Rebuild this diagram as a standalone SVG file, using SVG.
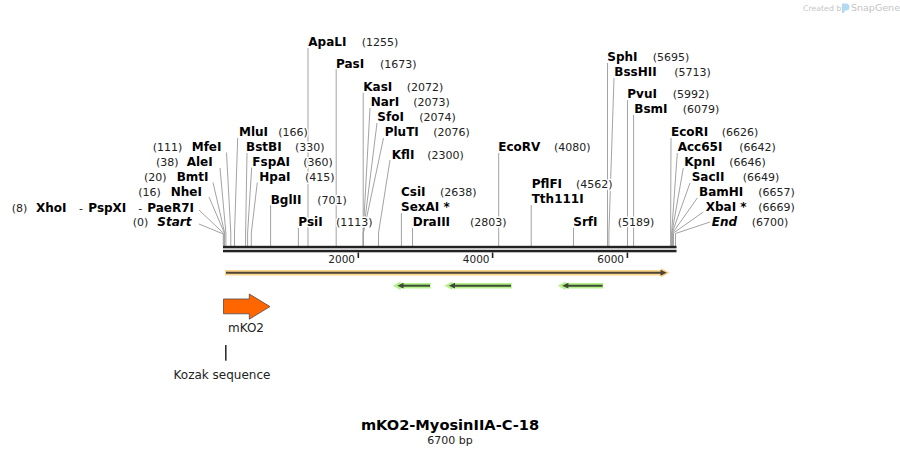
<svg xmlns="http://www.w3.org/2000/svg" width="900" height="456" viewBox="0 0 900 456">
<style>
.n{font-family:"DejaVu Sans",Verdana,sans-serif;font-size:12px;font-weight:bold;fill:#000}
.it{font-style:italic}
.p{font-family:"DejaVu Sans",Verdana,sans-serif;font-size:11px;fill:#222}
.h{paint-order:stroke;stroke:#fff;stroke-width:3;stroke-linejoin:round}
.ld{fill:none;stroke:#a3a3a3;stroke-width:1}
.tk{font-family:"DejaVu Sans",Verdana,sans-serif;font-size:10.5px;fill:#222;text-anchor:end}
.fl{font-family:"DejaVu Sans",Verdana,sans-serif;font-size:12px;fill:#222;text-anchor:middle}
</style>
<rect width="900" height="456" fill="#fff"/>
<g id="watermark">
<text x="803" y="10.5" font-family="DejaVu Sans,sans-serif" font-size="7.8" fill="#c4c4c4">Created by</text>
<path d="M842,3.5 h4 a3.5,3.5 0 0 1 0,7 h-1.5 v2 h-2.5 z" fill="#b3daf3"/>
<text x="851" y="11" font-family="DejaVu Sans,sans-serif" font-size="9.5" fill="#c4c4c4">SnapGene</text>
</g>
<g id="connectors">
<path class="ld" d="M199,224 L223.3,234 V246"/>
<path class="ld" d="M199,210 L223.8,233.5 V246"/>
<path class="ld" d="M209,197 L224.4,233 V246"/>
<path class="ld" d="M213,182.5 L224.7,233 V246"/>
<path class="ld" d="M220,168 L225.9,233 V246"/>
<path class="ld" d="M226.5,152.5 L230.8,233 V246"/>
<path class="ld" d="M237.7,138 L234.5,233 V246"/>
<path class="ld" d="M247,153 L245.6,233 V246"/>
<path class="ld" d="M251.7,167.5 L247.6,233 V246"/>
<path class="ld" d="M257.3,182.5 L251.3,233 V246"/>
<path class="ld" d="M270.6,205 V246"/>
<path class="ld" d="M298.4,228 V246"/>
<path class="ld" d="M308,48 V246"/>
<path class="ld" d="M336.2,69 V246"/>
<path class="ld" d="M363.2,93 V246"/>
<path class="ld" d="M370,108 L363.2,233 V246"/>
<path class="ld" d="M377,123 L363.3,233 V246"/>
<path class="ld" d="M383.5,138 L363.4,233 V246"/>
<path class="ld" d="M390,160 L378.5,233 V246"/>
<path class="ld" d="M401.4,213 V246"/>
<path class="ld" d="M412.5,228 V246"/>
<path class="ld" d="M498.7,153 V246"/>
<path class="ld" d="M531.2,205 V246"/>
<path class="ld" d="M573.5,228 V246"/>
<path class="ld" d="M607.5,63 V246"/>
<path class="ld" d="M614,78 L608.9,233 V246"/>
<path class="ld" d="M627.5,100 V246"/>
<path class="ld" d="M633.6,115 V246"/>
<path class="ld" d="M671,138 L670.6,233 V246"/>
<path class="ld" d="M677.3,153 L671.6,233 V246"/>
<path class="ld" d="M683.3,168 L671.9,233 V246"/>
<path class="ld" d="M690,183 L672.1,233 V246"/>
<path class="ld" d="M697.3,198 L672.6,233 V246"/>
<path class="ld" d="M703.3,212 L673.5,233 V246"/>
<path class="ld" d="M710,222 L675.5,233.5 V246"/>
</g>
<g id="backbone">
<rect x="223" y="245.8" width="453.5" height="2.5" fill="#222"/>
<rect x="223" y="249.8" width="453.5" height="2.5" fill="#222"/>
<rect x="357.5" y="252.5" width="1.6" height="5.5" fill="#222"/>
<rect x="491.8" y="252.5" width="1.6" height="5.5" fill="#222"/>
<rect x="626.6" y="252.5" width="1.6" height="5.5" fill="#222"/>
<text class="tk" x="355" y="263">2000</text>
<text class="tk" x="489.5" y="263">4000</text>
<text class="tk" x="624" y="263">6000</text>
</g>
<g id="e-Start"><text class="p h" x="132.7" y="226">(0)</text><text class="n it h" x="157.3" y="226">Start</text></g>
<g id="e-XhoI"><text class="p h" x="11.7" y="211.5">(8)</text><text class="n h" x="36" y="211.5">XhoI</text><text class="p h" x="79" y="211.5">-</text><text class="n h" x="88.3" y="211.5">PspXI</text><text class="p h" x="138.3" y="211.5">-</text><text class="n h" x="147.3" y="211.5">PaeR7I</text></g>
<g id="e-NheI"><text class="p h" x="138.3" y="196">(16)</text><text class="n h" x="170.7" y="196">NheI</text></g>
<g id="e-BmtI"><text class="p h" x="144" y="181">(20)</text><text class="n h" x="176.7" y="181">BmtI</text></g>
<g id="e-AleI"><text class="p h" x="156" y="166">(38)</text><text class="n h" x="186.7" y="166">AleI</text></g>
<g id="e-MfeI"><text class="p h" x="152.7" y="151">(111)</text><text class="n h" x="191.7" y="151">MfeI</text></g>
<g id="e-MluI"><text class="n h" x="239" y="136">MluI</text><text class="p h" x="278.3" y="136">(166)</text></g>
<g id="e-BstBI"><text class="n h" x="246" y="151">BstBI</text><text class="p h" x="295" y="151">(330)</text></g>
<g id="e-FspAI"><text class="n h" x="252.3" y="166">FspAI</text><text class="p h" x="303.3" y="166">(360)</text></g>
<g id="e-HpaI"><text class="n h" x="259.3" y="181">HpaI</text><text class="p h" x="305" y="181">(415)</text></g>
<g id="e-BglII"><text class="n h" x="270.7" y="203.5">BglII</text><text class="p h" x="317.3" y="203.5">(701)</text></g>
<g id="e-PsiI"><text class="n h" x="298.3" y="226">PsiI</text><text class="p h" x="336" y="226">(1113)</text></g>
<g id="e-ApaLI"><text class="n h" x="308.3" y="46">ApaLI</text><text class="p h" x="361.7" y="46">(1255)</text></g>
<g id="e-PasI"><text class="n h" x="336" y="67.5">PasI</text><text class="p h" x="380" y="67.5">(1673)</text></g>
<g id="e-KasI"><text class="n h" x="363.3" y="91">KasI</text><text class="p h" x="406.7" y="91">(2072)</text></g>
<g id="e-NarI"><text class="n h" x="370.7" y="106">NarI</text><text class="p h" x="413.3" y="106">(2073)</text></g>
<g id="e-SfoI"><text class="n h" x="377.3" y="121">SfoI</text><text class="p h" x="419.3" y="121">(2074)</text></g>
<g id="e-PluTI"><text class="n h" x="384.7" y="136">PluTI</text><text class="p h" x="433.3" y="136">(2076)</text></g>
<g id="e-KflI"><text class="n h" x="391.7" y="158.5">KflI</text><text class="p h" x="427.3" y="158.5">(2300)</text></g>
<g id="e-CsiI"><text class="n h" x="401" y="196">CsiI</text><text class="p h" x="440" y="196">(2638)</text></g>
<g id="e-SexAI"><text class="n h" x="401" y="211">SexAI *</text></g>
<g id="e-DraIII"><text class="n h" x="412.7" y="226">DraIII</text><text class="p h" x="470" y="226">(2803)</text></g>
<g id="e-EcoRV"><text class="n h" x="498.3" y="151">EcoRV</text><text class="p h" x="554" y="151">(4080)</text></g>
<g id="e-PflFI"><text class="n h" x="531.7" y="188">PflFI</text><text class="p h" x="576" y="188">(4562)</text></g>
<g id="e-Tth111I"><text class="n h" x="531.7" y="203">Tth111I</text></g>
<g id="e-SrfI"><text class="n h" x="573.3" y="226">SrfI</text><text class="p h" x="617.7" y="226">(5189)</text></g>
<g id="e-SphI"><text class="n h" x="607.3" y="60.7">SphI</text><text class="p h" x="652.7" y="60.7">(5695)</text></g>
<g id="e-BssHII"><text class="n h" x="614.3" y="76">BssHII</text><text class="p h" x="674.3" y="76">(5713)</text></g>
<g id="e-PvuI"><text class="n h" x="627.3" y="97.7">PvuI</text><text class="p h" x="672.7" y="97.7">(5992)</text></g>
<g id="e-BsmI"><text class="n h" x="634.3" y="113.3">BsmI</text><text class="p h" x="682.7" y="113.3">(6079)</text></g>
<g id="e-EcoRI"><text class="n h" x="671" y="136">EcoRI</text><text class="p h" x="721.7" y="136">(6626)</text></g>
<g id="e-Acc65I"><text class="n h" x="677.7" y="151">Acc65I</text><text class="p h" x="739.3" y="151">(6642)</text></g>
<g id="e-KpnI"><text class="n h" x="684.3" y="166">KpnI</text><text class="p h" x="729.3" y="166">(6646)</text></g>
<g id="e-SacII"><text class="n h" x="691.7" y="181">SacII</text><text class="p h" x="742.7" y="181">(6649)</text></g>
<g id="e-BamHI"><text class="n h" x="699" y="196">BamHI</text><text class="p h" x="758.3" y="196">(6657)</text></g>
<g id="e-XbaI"><text class="n h" x="705.7" y="211">XbaI *</text><text class="p h" x="758.3" y="211">(6669)</text></g>
<g id="e-End"><text class="n it h" x="711.7" y="226">End</text><text class="p h" x="751.7" y="226">(6700)</text></g>
<g id="f-orange">
<polygon points="225,270 661,270 661,268 669.5,272.8 661,277.6 661,275.6 225,275.6" fill="#f9cf82" opacity="0.9"/>
<line x1="226" y1="272.8" x2="662" y2="272.8" stroke="#4e4434" stroke-width="2"/>
<polygon points="660.5,269.8 666.8,272.8 660.5,275.8" fill="#4e4434"/>
</g>
<g id="f-green1">
<polygon points="392.7,285.7 400.5,281.5 400.5,283 430.7,283 430.7,288.4 400.5,288.4 400.5,290" fill="#b4f18a"/>
<line x1="402" y1="285.7" x2="430" y2="285.7" stroke="#3d4a35" stroke-width="2"/>
<polygon points="397.3,285.7 403.5,282.8 403.5,288.6" fill="#3d4a35"/>
</g>
<g id="f-green2">
<polygon points="444.5,285.7 452.3,281.5 452.3,283 511.7,283 511.7,288.4 452.3,288.4 452.3,290" fill="#b4f18a"/>
<line x1="453.5" y1="285.7" x2="511" y2="285.7" stroke="#3d4a35" stroke-width="2"/>
<polygon points="448.8,285.7 455,282.8 455,288.6" fill="#3d4a35"/>
</g>
<g id="f-green3">
<polygon points="557.8,285.7 565.6,281.5 565.6,283 603.3,283 603.3,288.4 565.6,288.4 565.6,290" fill="#b4f18a"/>
<line x1="567" y1="285.7" x2="602.6" y2="285.7" stroke="#3d4a35" stroke-width="2"/>
<polygon points="562.2,285.7 568.4,282.8 568.4,288.6" fill="#3d4a35"/>
</g>
<g id="f-mKO2">
<polygon points="223.5,299 249.3,299 249.3,294 270,306.6 249.3,319.2 249.3,313.8 223.5,313.8" fill="#ff6600" stroke="#4d4d4d" stroke-width="0.8"/>
<text class="fl" x="246" y="331.5">mKO2</text>
</g>
<g id="f-Kozak">
<rect x="225" y="345" width="1.6" height="15.7" fill="#333"/>
<text class="fl" x="222" y="378.5">Kozak sequence</text>
</g>
<g id="title">
<text x="450" y="430" text-anchor="middle" font-family="DejaVu Sans,Verdana,sans-serif" font-size="14.6" font-weight="bold" fill="#000">mKO2-MyosinIIA-C-18</text>
<text x="450" y="443.5" text-anchor="middle" font-family="DejaVu Sans,Verdana,sans-serif" font-size="11" fill="#222">6700 bp</text>
</g>
</svg>
